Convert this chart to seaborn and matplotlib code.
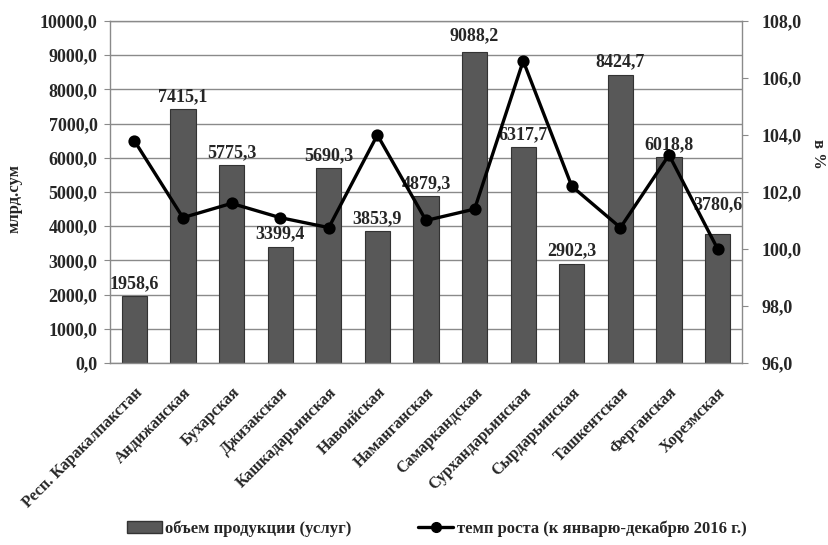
import matplotlib
matplotlib.use("Agg")
import matplotlib.pyplot as plt
from matplotlib.ticker import FuncFormatter, MultipleLocator
from matplotlib.patches import Patch
from matplotlib.lines import Line2D
import seaborn as sns

# Data
regions = ["Респ. Каракалпакстан", "Андижанская", "Бухарская", "Джизакская",
           "Кашкадарьинская", "Навоийская", "Наманганская", "Самаркандская",
           "Сурхандарьинская", "Сырдарьинская", "Ташкентская", "Ферганская",
           "Хорезмская"]
volume = [1958.6, 7415.1, 5775.3, 3399.4, 5690.3, 3853.9, 4879.3, 9088.2,
          6317.7, 2902.3, 8424.7, 6018.8, 3780.6]
growth = [103.8, 101.1, 101.6, 101.1, 100.75, 104.0, 101.0, 101.4, 106.6,
          102.2, 100.75, 103.3, 100.0]

sns.set_style("white")
plt.rcParams["font.family"] = ["Liberation Serif", "DejaVu Serif"]
plt.rcParams["font.weight"] = "bold"

comma = FuncFormatter(lambda v, p: f"{v:.1f}".replace(".", ","))

fig = plt.figure(figsize=(8.29, 5.45), dpi=100)
ax = fig.add_axes([0.1327, 0.334, 0.7623, 0.6275])

sns.barplot(x=regions, y=volume, color="#585858", edgecolor="#333333",
            linewidth=0.8, width=0.52, saturation=1, ax=ax, zorder=2)
ax.set_ylim(0, 10000)
ax.yaxis.set_major_locator(MultipleLocator(1000))
ax.yaxis.set_major_formatter(comma)
ax.grid(axis="y", color="#8a8a8a", linewidth=1.0, zorder=0)
ax.set_axisbelow(True)
for s in ax.spines.values():
    s.set_color("#8a8a8a")
    s.set_linewidth(1.0)
ax.tick_params(axis="y", left=True, length=4, color="#8a8a8a", labelsize=13, pad=5)
ax.tick_params(axis="x", bottom=False, labelsize=11.5, pad=12)
plt.setp(ax.get_xticklabels(), rotation=45, ha="right", rotation_mode="anchor",
         fontweight="bold")
plt.setp(ax.get_yticklabels(), fontweight="bold")
ax.set_ylabel("млрд.сум", fontsize=12, fontweight="bold")
ax.yaxis.set_label_coords(-0.138, 0.48)
ax.set_xlabel("")

# value labels over bars
offsets = {7: 6, 12: 15}
for i, v in enumerate(volume):
    ax.annotate(f"{v:.1f}".replace(".", ","), (i, v), xytext=(0, offsets.get(i, 3)),
                textcoords="offset points", ha="center", va="bottom",
                fontsize=13, fontweight="bold", zorder=5)

ax2 = ax.twinx()
sns.pointplot(x=regions, y=growth, color="black", markers="o", linestyles="-",
              markersize=7, linewidth=2.4, ax=ax2)
ax2.set_ylim(96, 108)
ax2.yaxis.set_major_locator(MultipleLocator(2))
ax2.yaxis.set_major_formatter(comma)
ax2.tick_params(axis="y", right=True, length=4, color="#8a8a8a", labelsize=13, pad=10)
plt.setp(ax2.get_yticklabels(), fontweight="bold")
for s in ax2.spines.values():
    s.set_visible(False)
ax2.set_ylabel("в %", rotation=270, fontsize=12, fontweight="bold", va="center")
ax2.yaxis.set_label_coords(1.12, 0.61)
ax2.set_xlabel("")
ax2.grid(False)

handles = [Patch(facecolor="#585858", edgecolor="#333333"),
           Line2D([], [], color="black", marker="o", linewidth=2.4, markersize=7)]
labels = ["объем продукции (услуг)", "темп роста (к январю-декабрю 2016 г.)"]
fig.legend(handles, labels, loc="center left", bbox_to_anchor=(0.153, 0.03), ncol=2,
           frameon=False, fontsize=12, columnspacing=4.0, handlelength=2.1,
           handletextpad=0.2, borderpad=0, borderaxespad=0)

fig.savefig("out.png", dpi=100)
